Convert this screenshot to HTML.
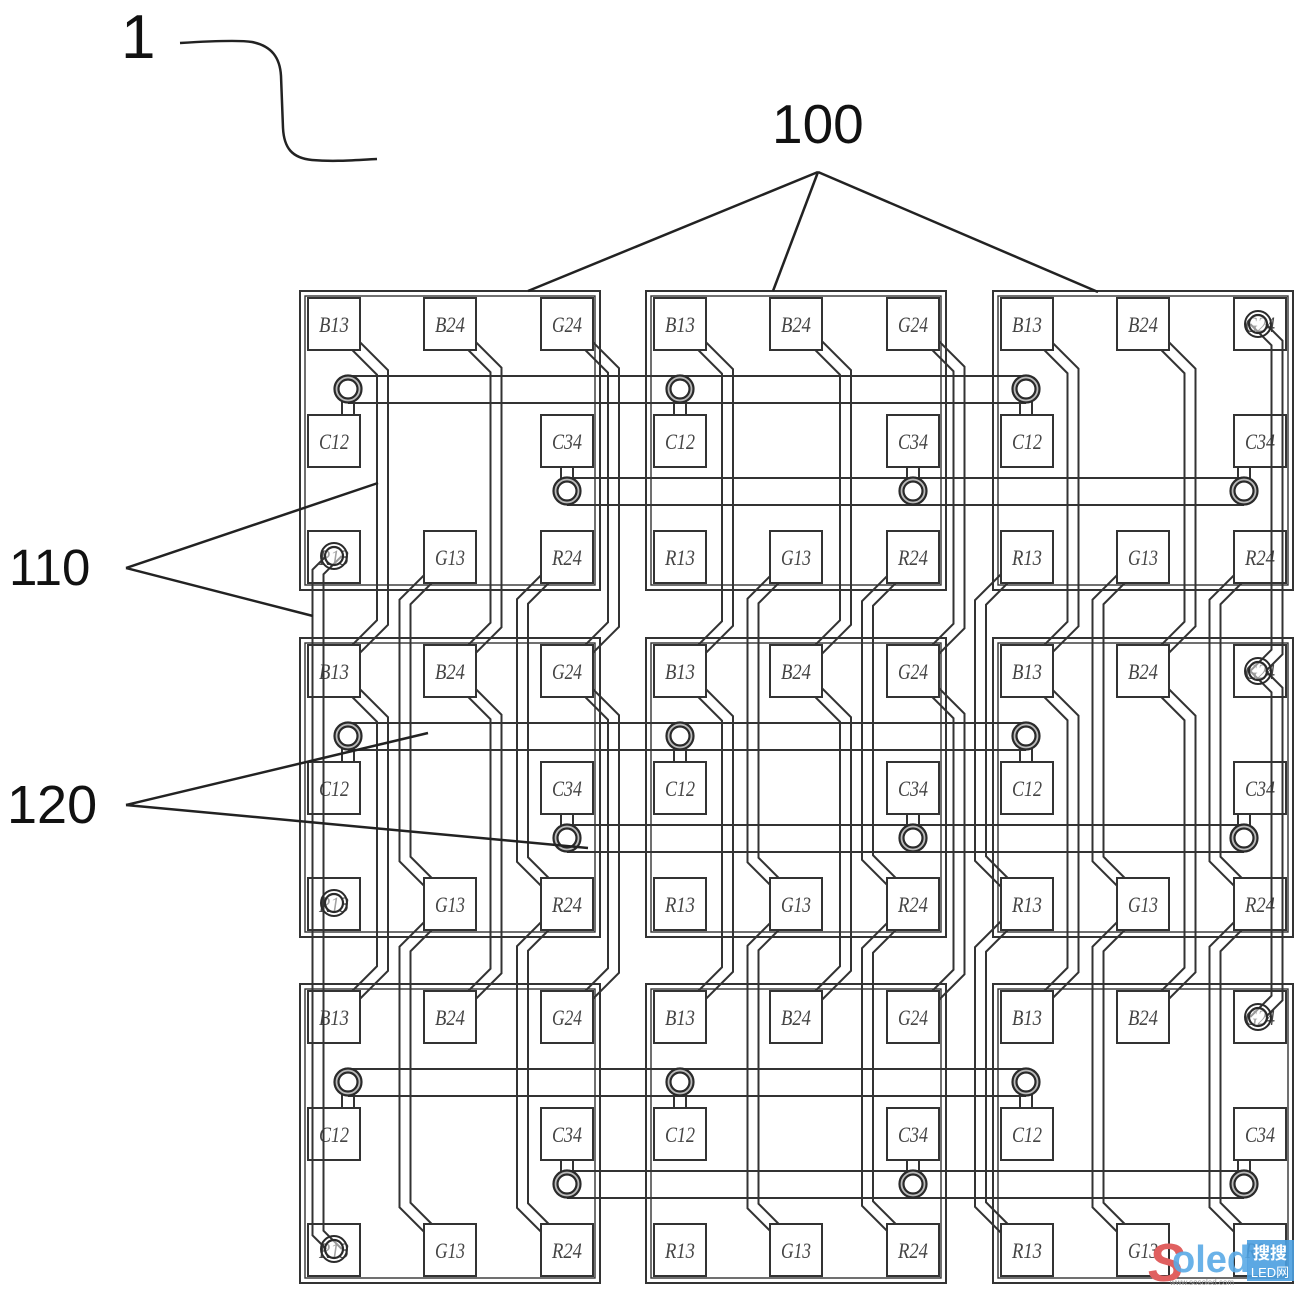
<!DOCTYPE html>
<html>
<head>
<meta charset="utf-8">
<style>
html,body{margin:0;padding:0;background:#fff;}
svg{display:block;}
.pad{fill:#fff;stroke:#333;stroke-width:2;}
.lb{font-family:"Liberation Serif",serif;font-style:italic;font-size:22px;fill:#444;text-anchor:middle;}
.num{font-family:"Liberation Sans",sans-serif;fill:#111;}
</style>
</head>
<body>
<svg width="1307" height="1299" viewBox="0 0 1307 1299" xmlns="http://www.w3.org/2000/svg">
<defs>
<g id="tr" fill="none" stroke-linejoin="miter">
<path d="M352,342 L382.5,372.5 L382.5,622.5 L352,653"/>
<path d="M352,689 L382.5,719.5 L382.5,968.5 L352,999"/>
<path d="M468,342 L496,370 L496,625 L468,653"/>
<path d="M468,689 L496,717 L496,971 L468,999"/>
<path d="M585,342 L613.5,370.5 L613.5,624.5 L585,653"/>
<path d="M585,689 L613.5,717.5 L613.5,970.5 L585,999"/>
<path d="M432,575 L405,602 L405,859 L432,886"/>
<path d="M432,922 L405,949 L405,1205 L432,1232"/>
<path d="M549,575 L522.5,601.5 L522.5,859.5 L549,886"/>
<path d="M549,922 L522.5,948.5 L522.5,1205.5 L549,1232"/>
<path d="M698,342 L727.5,371.5 L727.5,623.5 L698,653"/>
<path d="M698,689 L727.5,718.5 L727.5,969.5 L698,999"/>
<path d="M815,342 L845.5,372.5 L845.5,622.5 L815,653"/>
<path d="M815,689 L845.5,719.5 L845.5,968.5 L815,999"/>
<path d="M932,342 L959,369 L959,626 L932,653"/>
<path d="M932,689 L959,716 L959,972 L932,999"/>
<path d="M779,575 L753,601 L753,860 L779,886"/>
<path d="M779,922 L753,948 L753,1206 L779,1232"/>
<path d="M896,575 L867.5,603.5 L867.5,857.5 L896,886"/>
<path d="M896,922 L867.5,950.5 L867.5,1203.5 L896,1232"/>
<path d="M1044,342 L1073,371 L1073,624 L1044,653"/>
<path d="M1044,689 L1073,718 L1073,970 L1044,999"/>
<path d="M1161,342 L1190,371 L1190,624 L1161,653"/>
<path d="M1161,689 L1190,718 L1190,970 L1161,999"/>
<path d="M1008,575 L980.5,602.5 L980.5,858.5 L1008,886"/>
<path d="M1008,922 L980.5,949.5 L980.5,1204.5 L1008,1232"/>
<path d="M1125,575 L1098,602 L1098,859 L1125,886"/>
<path d="M1125,922 L1098,949 L1098,1205 L1125,1232"/>
<path d="M1242,575 L1215,602 L1215,859 L1242,886"/>
<path d="M1242,922 L1215,949 L1215,1205 L1242,1232"/>
</g>
</defs>

<!-- traces: black then white interior to form double lines -->
<use href="#tr" stroke="#333" stroke-width="13"/>
<use href="#tr" stroke="#fff" stroke-width="9"/>

<!-- module borders -->
<g fill="none" stroke="#333">
<g stroke-width="2">
<rect x="300" y="291" width="300" height="299"/>
<rect x="646" y="291" width="300" height="299"/>
<rect x="993" y="291" width="300" height="299"/>
<rect x="300" y="638" width="300" height="299"/>
<rect x="646" y="638" width="300" height="299"/>
<rect x="993" y="638" width="300" height="299"/>
<rect x="300" y="984" width="300" height="299"/>
<rect x="646" y="984" width="300" height="299"/>
<rect x="993" y="984" width="300" height="299"/>
</g>
<g stroke-width="1.4">
<rect x="305" y="296" width="290" height="289"/>
<rect x="651" y="296" width="290" height="289"/>
<rect x="998" y="296" width="290" height="289"/>
<rect x="305" y="643" width="290" height="289"/>
<rect x="651" y="643" width="290" height="289"/>
<rect x="998" y="643" width="290" height="289"/>
<rect x="305" y="989" width="290" height="289"/>
<rect x="651" y="989" width="290" height="289"/>
<rect x="998" y="989" width="290" height="289"/>
</g>
</g>

<!-- bus lines -->
<g stroke="#333" stroke-width="2" fill="none">
<line x1="348" y1="376" x2="1026" y2="376"/>
<line x1="348" y1="403" x2="1026" y2="403"/>
<line x1="567" y1="478" x2="1244" y2="478"/>
<line x1="567" y1="505" x2="1244" y2="505"/>
<line x1="348" y1="723" x2="1026" y2="723"/>
<line x1="348" y1="750" x2="1026" y2="750"/>
<line x1="567" y1="825" x2="1244" y2="825"/>
<line x1="567" y1="852" x2="1244" y2="852"/>
<line x1="348" y1="1069" x2="1026" y2="1069"/>
<line x1="348" y1="1096" x2="1026" y2="1096"/>
<line x1="567" y1="1171" x2="1244" y2="1171"/>
<line x1="567" y1="1198" x2="1244" y2="1198"/>
</g>

<!-- pads row 1 -->
<rect class="pad" x="308" y="298" width="52" height="52"/><text class="lb" x="334" y="332" textLength="30" lengthAdjust="spacingAndGlyphs">B13</text>
<rect class="pad" x="424" y="298" width="52" height="52"/><text class="lb" x="450" y="332" textLength="30" lengthAdjust="spacingAndGlyphs">B24</text>
<rect class="pad" x="541" y="298" width="52" height="52"/><text class="lb" x="567" y="332" textLength="30" lengthAdjust="spacingAndGlyphs">G24</text>
<rect class="pad" x="308" y="415" width="52" height="52"/><text class="lb" x="334" y="449" textLength="30" lengthAdjust="spacingAndGlyphs">C12</text>
<rect class="pad" x="541" y="415" width="52" height="52"/><text class="lb" x="567" y="449" textLength="30" lengthAdjust="spacingAndGlyphs">C34</text>
<rect class="pad" x="308" y="531" width="52" height="52"/><text class="lb" x="334" y="565" textLength="30" lengthAdjust="spacingAndGlyphs">R13</text>
<rect class="pad" x="424" y="531" width="52" height="52"/><text class="lb" x="450" y="565" textLength="30" lengthAdjust="spacingAndGlyphs">G13</text>
<rect class="pad" x="541" y="531" width="52" height="52"/><text class="lb" x="567" y="565" textLength="30" lengthAdjust="spacingAndGlyphs">R24</text>

<rect class="pad" x="654" y="298" width="52" height="52"/><text class="lb" x="680" y="332" textLength="30" lengthAdjust="spacingAndGlyphs">B13</text>
<rect class="pad" x="770" y="298" width="52" height="52"/><text class="lb" x="796" y="332" textLength="30" lengthAdjust="spacingAndGlyphs">B24</text>
<rect class="pad" x="887" y="298" width="52" height="52"/><text class="lb" x="913" y="332" textLength="30" lengthAdjust="spacingAndGlyphs">G24</text>
<rect class="pad" x="654" y="415" width="52" height="52"/><text class="lb" x="680" y="449" textLength="30" lengthAdjust="spacingAndGlyphs">C12</text>
<rect class="pad" x="887" y="415" width="52" height="52"/><text class="lb" x="913" y="449" textLength="30" lengthAdjust="spacingAndGlyphs">C34</text>
<rect class="pad" x="654" y="531" width="52" height="52"/><text class="lb" x="680" y="565" textLength="30" lengthAdjust="spacingAndGlyphs">R13</text>
<rect class="pad" x="770" y="531" width="52" height="52"/><text class="lb" x="796" y="565" textLength="30" lengthAdjust="spacingAndGlyphs">G13</text>
<rect class="pad" x="887" y="531" width="52" height="52"/><text class="lb" x="913" y="565" textLength="30" lengthAdjust="spacingAndGlyphs">R24</text>

<rect class="pad" x="1001" y="298" width="52" height="52"/><text class="lb" x="1027" y="332" textLength="30" lengthAdjust="spacingAndGlyphs">B13</text>
<rect class="pad" x="1117" y="298" width="52" height="52"/><text class="lb" x="1143" y="332" textLength="30" lengthAdjust="spacingAndGlyphs">B24</text>
<rect class="pad" x="1234" y="298" width="52" height="52"/><text class="lb" x="1260" y="332" textLength="30" lengthAdjust="spacingAndGlyphs">G24</text>
<rect class="pad" x="1001" y="415" width="52" height="52"/><text class="lb" x="1027" y="449" textLength="30" lengthAdjust="spacingAndGlyphs">C12</text>
<rect class="pad" x="1234" y="415" width="52" height="52"/><text class="lb" x="1260" y="449" textLength="30" lengthAdjust="spacingAndGlyphs">C34</text>
<rect class="pad" x="1001" y="531" width="52" height="52"/><text class="lb" x="1027" y="565" textLength="30" lengthAdjust="spacingAndGlyphs">R13</text>
<rect class="pad" x="1117" y="531" width="52" height="52"/><text class="lb" x="1143" y="565" textLength="30" lengthAdjust="spacingAndGlyphs">G13</text>
<rect class="pad" x="1234" y="531" width="52" height="52"/><text class="lb" x="1260" y="565" textLength="30" lengthAdjust="spacingAndGlyphs">R24</text>

<!-- pads row 2 -->
<rect class="pad" x="308" y="645" width="52" height="52"/><text class="lb" x="334" y="679" textLength="30" lengthAdjust="spacingAndGlyphs">B13</text>
<rect class="pad" x="424" y="645" width="52" height="52"/><text class="lb" x="450" y="679" textLength="30" lengthAdjust="spacingAndGlyphs">B24</text>
<rect class="pad" x="541" y="645" width="52" height="52"/><text class="lb" x="567" y="679" textLength="30" lengthAdjust="spacingAndGlyphs">G24</text>
<rect class="pad" x="308" y="762" width="52" height="52"/><text class="lb" x="334" y="796" textLength="30" lengthAdjust="spacingAndGlyphs">C12</text>
<rect class="pad" x="541" y="762" width="52" height="52"/><text class="lb" x="567" y="796" textLength="30" lengthAdjust="spacingAndGlyphs">C34</text>
<rect class="pad" x="308" y="878" width="52" height="52"/><text class="lb" x="334" y="912" textLength="30" lengthAdjust="spacingAndGlyphs">R13</text>
<rect class="pad" x="424" y="878" width="52" height="52"/><text class="lb" x="450" y="912" textLength="30" lengthAdjust="spacingAndGlyphs">G13</text>
<rect class="pad" x="541" y="878" width="52" height="52"/><text class="lb" x="567" y="912" textLength="30" lengthAdjust="spacingAndGlyphs">R24</text>

<rect class="pad" x="654" y="645" width="52" height="52"/><text class="lb" x="680" y="679" textLength="30" lengthAdjust="spacingAndGlyphs">B13</text>
<rect class="pad" x="770" y="645" width="52" height="52"/><text class="lb" x="796" y="679" textLength="30" lengthAdjust="spacingAndGlyphs">B24</text>
<rect class="pad" x="887" y="645" width="52" height="52"/><text class="lb" x="913" y="679" textLength="30" lengthAdjust="spacingAndGlyphs">G24</text>
<rect class="pad" x="654" y="762" width="52" height="52"/><text class="lb" x="680" y="796" textLength="30" lengthAdjust="spacingAndGlyphs">C12</text>
<rect class="pad" x="887" y="762" width="52" height="52"/><text class="lb" x="913" y="796" textLength="30" lengthAdjust="spacingAndGlyphs">C34</text>
<rect class="pad" x="654" y="878" width="52" height="52"/><text class="lb" x="680" y="912" textLength="30" lengthAdjust="spacingAndGlyphs">R13</text>
<rect class="pad" x="770" y="878" width="52" height="52"/><text class="lb" x="796" y="912" textLength="30" lengthAdjust="spacingAndGlyphs">G13</text>
<rect class="pad" x="887" y="878" width="52" height="52"/><text class="lb" x="913" y="912" textLength="30" lengthAdjust="spacingAndGlyphs">R24</text>

<rect class="pad" x="1001" y="645" width="52" height="52"/><text class="lb" x="1027" y="679" textLength="30" lengthAdjust="spacingAndGlyphs">B13</text>
<rect class="pad" x="1117" y="645" width="52" height="52"/><text class="lb" x="1143" y="679" textLength="30" lengthAdjust="spacingAndGlyphs">B24</text>
<rect class="pad" x="1234" y="645" width="52" height="52"/><text class="lb" x="1260" y="679" textLength="30" lengthAdjust="spacingAndGlyphs">G24</text>
<rect class="pad" x="1001" y="762" width="52" height="52"/><text class="lb" x="1027" y="796" textLength="30" lengthAdjust="spacingAndGlyphs">C12</text>
<rect class="pad" x="1234" y="762" width="52" height="52"/><text class="lb" x="1260" y="796" textLength="30" lengthAdjust="spacingAndGlyphs">C34</text>
<rect class="pad" x="1001" y="878" width="52" height="52"/><text class="lb" x="1027" y="912" textLength="30" lengthAdjust="spacingAndGlyphs">R13</text>
<rect class="pad" x="1117" y="878" width="52" height="52"/><text class="lb" x="1143" y="912" textLength="30" lengthAdjust="spacingAndGlyphs">G13</text>
<rect class="pad" x="1234" y="878" width="52" height="52"/><text class="lb" x="1260" y="912" textLength="30" lengthAdjust="spacingAndGlyphs">R24</text>

<!-- pads row 3 -->
<rect class="pad" x="308" y="991" width="52" height="52"/><text class="lb" x="334" y="1025" textLength="30" lengthAdjust="spacingAndGlyphs">B13</text>
<rect class="pad" x="424" y="991" width="52" height="52"/><text class="lb" x="450" y="1025" textLength="30" lengthAdjust="spacingAndGlyphs">B24</text>
<rect class="pad" x="541" y="991" width="52" height="52"/><text class="lb" x="567" y="1025" textLength="30" lengthAdjust="spacingAndGlyphs">G24</text>
<rect class="pad" x="308" y="1108" width="52" height="52"/><text class="lb" x="334" y="1142" textLength="30" lengthAdjust="spacingAndGlyphs">C12</text>
<rect class="pad" x="541" y="1108" width="52" height="52"/><text class="lb" x="567" y="1142" textLength="30" lengthAdjust="spacingAndGlyphs">C34</text>
<rect class="pad" x="308" y="1224" width="52" height="52"/><text class="lb" x="334" y="1258" textLength="30" lengthAdjust="spacingAndGlyphs">R13</text>
<rect class="pad" x="424" y="1224" width="52" height="52"/><text class="lb" x="450" y="1258" textLength="30" lengthAdjust="spacingAndGlyphs">G13</text>
<rect class="pad" x="541" y="1224" width="52" height="52"/><text class="lb" x="567" y="1258" textLength="30" lengthAdjust="spacingAndGlyphs">R24</text>

<rect class="pad" x="654" y="991" width="52" height="52"/><text class="lb" x="680" y="1025" textLength="30" lengthAdjust="spacingAndGlyphs">B13</text>
<rect class="pad" x="770" y="991" width="52" height="52"/><text class="lb" x="796" y="1025" textLength="30" lengthAdjust="spacingAndGlyphs">B24</text>
<rect class="pad" x="887" y="991" width="52" height="52"/><text class="lb" x="913" y="1025" textLength="30" lengthAdjust="spacingAndGlyphs">G24</text>
<rect class="pad" x="654" y="1108" width="52" height="52"/><text class="lb" x="680" y="1142" textLength="30" lengthAdjust="spacingAndGlyphs">C12</text>
<rect class="pad" x="887" y="1108" width="52" height="52"/><text class="lb" x="913" y="1142" textLength="30" lengthAdjust="spacingAndGlyphs">C34</text>
<rect class="pad" x="654" y="1224" width="52" height="52"/><text class="lb" x="680" y="1258" textLength="30" lengthAdjust="spacingAndGlyphs">R13</text>
<rect class="pad" x="770" y="1224" width="52" height="52"/><text class="lb" x="796" y="1258" textLength="30" lengthAdjust="spacingAndGlyphs">G13</text>
<rect class="pad" x="887" y="1224" width="52" height="52"/><text class="lb" x="913" y="1258" textLength="30" lengthAdjust="spacingAndGlyphs">R24</text>

<rect class="pad" x="1001" y="991" width="52" height="52"/><text class="lb" x="1027" y="1025" textLength="30" lengthAdjust="spacingAndGlyphs">B13</text>
<rect class="pad" x="1117" y="991" width="52" height="52"/><text class="lb" x="1143" y="1025" textLength="30" lengthAdjust="spacingAndGlyphs">B24</text>
<rect class="pad" x="1234" y="991" width="52" height="52"/><text class="lb" x="1260" y="1025" textLength="30" lengthAdjust="spacingAndGlyphs">G24</text>
<rect class="pad" x="1001" y="1108" width="52" height="52"/><text class="lb" x="1027" y="1142" textLength="30" lengthAdjust="spacingAndGlyphs">C12</text>
<rect class="pad" x="1234" y="1108" width="52" height="52"/><text class="lb" x="1260" y="1142" textLength="30" lengthAdjust="spacingAndGlyphs">C34</text>
<rect class="pad" x="1001" y="1224" width="52" height="52"/><text class="lb" x="1027" y="1258" textLength="30" lengthAdjust="spacingAndGlyphs">R13</text>
<rect class="pad" x="1117" y="1224" width="52" height="52"/><text class="lb" x="1143" y="1258" textLength="30" lengthAdjust="spacingAndGlyphs">G13</text>
<rect class="pad" x="1234" y="1224" width="52" height="52"/><text class="lb" x="1260" y="1258" textLength="30" lengthAdjust="spacingAndGlyphs">R24</text>

<!-- via traces over pads -->
<g fill="none" stroke="#333" stroke-width="2" stroke-linejoin="miter">
<path d="M326.2,556 L312.5,569.7 L312.5,1235.3 L326.2,1249"/>
<path d="M341.8,556 L323.5,574.3 L323.5,1230.7 L341.8,1249"/>
<path d="M1265.8,324 L1282.5,340.7 L1282.5,654.3 L1265.8,671 L1282.5,687.7 L1282.5,1000.3 L1265.8,1017"/>
<path d="M1250.2,324 L1271.5,345.3 L1271.5,649.7 L1250.2,671 L1271.5,692.3 L1271.5,995.7 L1250.2,1017"/>
</g>

<!-- via connectors -->
<g stroke="#333" stroke-width="2">
<line x1="342" y1="400" x2="342" y2="415"/><line x1="354" y1="400" x2="354" y2="415"/>
<line x1="674" y1="400" x2="674" y2="415"/><line x1="686" y1="400" x2="686" y2="415"/>
<line x1="1020" y1="400" x2="1020" y2="415"/><line x1="1032" y1="400" x2="1032" y2="415"/>
<line x1="561" y1="467" x2="561" y2="482"/><line x1="573" y1="467" x2="573" y2="482"/>
<line x1="907" y1="467" x2="907" y2="482"/><line x1="919" y1="467" x2="919" y2="482"/>
<line x1="1238" y1="467" x2="1238" y2="482"/><line x1="1250" y1="467" x2="1250" y2="482"/>

<line x1="342" y1="747" x2="342" y2="762"/><line x1="354" y1="747" x2="354" y2="762"/>
<line x1="674" y1="747" x2="674" y2="762"/><line x1="686" y1="747" x2="686" y2="762"/>
<line x1="1020" y1="747" x2="1020" y2="762"/><line x1="1032" y1="747" x2="1032" y2="762"/>
<line x1="561" y1="814" x2="561" y2="829"/><line x1="573" y1="814" x2="573" y2="829"/>
<line x1="907" y1="814" x2="907" y2="829"/><line x1="919" y1="814" x2="919" y2="829"/>
<line x1="1238" y1="814" x2="1238" y2="829"/><line x1="1250" y1="814" x2="1250" y2="829"/>

<line x1="342" y1="1093" x2="342" y2="1108"/><line x1="354" y1="1093" x2="354" y2="1108"/>
<line x1="674" y1="1093" x2="674" y2="1108"/><line x1="686" y1="1093" x2="686" y2="1108"/>
<line x1="1020" y1="1093" x2="1020" y2="1108"/><line x1="1032" y1="1093" x2="1032" y2="1108"/>
<line x1="561" y1="1160" x2="561" y2="1175"/><line x1="573" y1="1160" x2="573" y2="1175"/>
<line x1="907" y1="1160" x2="907" y2="1175"/><line x1="919" y1="1160" x2="919" y2="1175"/>
<line x1="1238" y1="1160" x2="1238" y2="1175"/><line x1="1250" y1="1160" x2="1250" y2="1175"/>
</g>

<!-- vias -->
<g stroke="#2a2a2a">
<g fill="#bbb" stroke-width="2.2">
<circle cx="348" cy="389" r="13.5"/><circle cx="680" cy="389" r="13.5"/><circle cx="1026" cy="389" r="13.5"/>
<circle cx="567" cy="491" r="13.5"/><circle cx="913" cy="491" r="13.5"/><circle cx="1244" cy="491" r="13.5"/>
<circle cx="348" cy="736" r="13.5"/><circle cx="680" cy="736" r="13.5"/><circle cx="1026" cy="736" r="13.5"/>
<circle cx="567" cy="838" r="13.5"/><circle cx="913" cy="838" r="13.5"/><circle cx="1244" cy="838" r="13.5"/>
<circle cx="348" cy="1082" r="13.5"/><circle cx="680" cy="1082" r="13.5"/><circle cx="1026" cy="1082" r="13.5"/>
<circle cx="567" cy="1184" r="13.5"/><circle cx="913" cy="1184" r="13.5"/><circle cx="1244" cy="1184" r="13.5"/>
</g>
<g fill="#fff" stroke-width="2.2">
<circle cx="348" cy="389" r="9.5"/><circle cx="680" cy="389" r="9.5"/><circle cx="1026" cy="389" r="9.5"/>
<circle cx="567" cy="491" r="9.5"/><circle cx="913" cy="491" r="9.5"/><circle cx="1244" cy="491" r="9.5"/>
<circle cx="348" cy="736" r="9.5"/><circle cx="680" cy="736" r="9.5"/><circle cx="1026" cy="736" r="9.5"/>
<circle cx="567" cy="838" r="9.5"/><circle cx="913" cy="838" r="9.5"/><circle cx="1244" cy="838" r="9.5"/>
<circle cx="348" cy="1082" r="9.5"/><circle cx="680" cy="1082" r="9.5"/><circle cx="1026" cy="1082" r="9.5"/>
<circle cx="567" cy="1184" r="9.5"/><circle cx="913" cy="1184" r="9.5"/><circle cx="1244" cy="1184" r="9.5"/>
</g>
<!-- vias on pads -->
<g fill="none" stroke-width="2">
<circle cx="334" cy="556" r="13"/><circle cx="334" cy="903" r="13"/><circle cx="334" cy="1249" r="13"/>
<circle cx="1258" cy="324" r="13"/><circle cx="1258" cy="671" r="13"/><circle cx="1258" cy="1017" r="13"/>
</g>
<g fill="rgba(255,255,255,0.5)" stroke-width="2.2">
<circle cx="334" cy="556" r="9"/><circle cx="334" cy="903" r="9"/><circle cx="334" cy="1249" r="9"/>
<circle cx="1258" cy="324" r="9"/><circle cx="1258" cy="671" r="9"/><circle cx="1258" cy="1017" r="9"/>
</g>
</g>

<!-- reference labels and leaders -->
<text class="num" x="121" y="58" font-size="62">1</text>
<path d="M180,43 C212,41 240,40 252,42 C272,46 280,58 281,76 L283,128 C284,148 292,158 312,160 C335,162 355,160 377,159" fill="none" stroke="#222" stroke-width="2.5"/>

<text class="num" x="772" y="143" font-size="55">100</text>
<g stroke="#222" stroke-width="2.5" fill="none">
<line x1="818" y1="172" x2="528" y2="291"/>
<line x1="818" y1="172" x2="773" y2="291"/>
<line x1="818" y1="172" x2="1098" y2="292"/>
<line x1="126" y1="568" x2="378" y2="483"/>
<line x1="126" y1="568" x2="313" y2="616"/>
<line x1="126" y1="805" x2="428" y2="733"/>
<line x1="126" y1="805" x2="588" y2="848"/>
</g>
<text class="num" x="9" y="585" font-size="51">110</text>
<text class="num" x="7" y="823" font-size="54">120</text>

<!-- watermark -->
<text x="1148" y="1281" font-family="Liberation Sans, sans-serif" font-weight="bold" font-style="italic" font-size="54" fill="#e06060">S</text>
<text x="1172" y="1272" font-family="Liberation Sans, sans-serif" font-weight="bold" font-size="38" fill="#5aaae6" fill-opacity="0.9">oled</text>
<rect x="1247" y="1240" width="47" height="41" fill="#4a9fe0" fill-opacity="0.9"/>
<text x="1270" y="1259" font-family="Liberation Sans, 'Noto Sans CJK SC', sans-serif" font-size="17" font-weight="bold" fill="#fff" text-anchor="middle">搜搜</text>
<text x="1270" y="1277" font-family="Liberation Sans, 'Noto Sans CJK SC', sans-serif" font-size="13" fill="#fff" text-anchor="middle">LED网</text>
<text x="1170" y="1285" font-family="Liberation Sans, sans-serif" font-size="8" fill="#999">www.sosoled.com</text>
</svg>
</body>
</html>
